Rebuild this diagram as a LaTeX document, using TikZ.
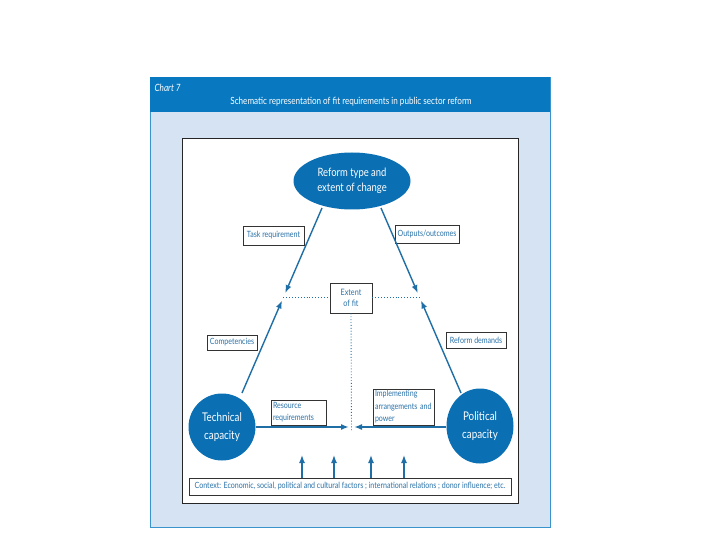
\documentclass[tikz,border=0pt]{standalone}
\usepackage{fontspec}
\setmainfont{Lato}[FakeStretch=0.82]
\usetikzlibrary{arrows.meta,calc,shapes.geometric}
\definecolor{hdr}{HTML}{0878C0}
\definecolor{panel}{HTML}{D6E3F3}
\definecolor{blob}{HTML}{0B6FB3}
\definecolor{ln}{HTML}{1F6FA6}
\definecolor{txt}{HTML}{2A72A8}
\tikzset{
  blobnode/.style={fill=blob, draw=none, text=white, align=center, inner sep=0pt},
  lbl/.style={draw=black!80, line width=0.7pt, fill=white, text=txt, inner sep=1pt, align=center, font=\fontsize{8.6}{9.5}\selectfont},
  conn/.style={draw=ln, line width=1.4pt},
  arr/.style={conn, -{Latex[length=8pt,width=6pt]}},
  dots/.style={draw=ln, line width=0.9pt, dotted}
}
\begin{document}
\begin{tikzpicture}[x=1pt,y=-1pt]
\useasboundingbox (0,0) rectangle (720,540);
\fill[white] (0,0) rectangle (720,540);
\draw[fill=panel, draw=hdr!80, line width=0.8pt] (150,77) rectangle (550,527);
\fill[hdr] (150,77) rectangle (550,112);
\draw[fill=white, draw=black!85, line width=0.9pt] (182,138) rectangle (518,503);

\node[anchor=west, text=white, font=\itshape\fontsize{10}{11}\selectfont] (chart) at (151,88) {Chart 7};
\node[text=white, font=\fontsize{9.9}{11}\selectfont] (title) at (351,102) {Schematic representation of fit requirements in public sector reform};

% main nodes
\node[blobnode, ellipse, minimum width=117pt, minimum height=57pt, font=\fontsize{11.5}{15}\selectfont] (top) at (352,181) {Reform type and\\extent of change};
\node[blobnode, circle, minimum size=67pt, font=\fontsize{12}{18}\selectfont] (tech) at (222,427) {Technical\\capacity};
\node[blobnode, ellipse, minimum width=67pt, minimum height=75pt, font=\fontsize{12}{18}\selectfont] (pol) at (480,426) {Political\\capacity};

% labels
\node[lbl, minimum width=61pt, minimum height=19pt] (task) at (273.5,235.5) {Task requirement};
\node[lbl, minimum width=64pt, minimum height=18pt] (outp) at (427,234) {Outputs/outcomes};
\node[lbl, minimum width=50pt, minimum height=15pt] (comp) at (232,342.5) {Competencies};
\node[lbl, minimum width=60pt, minimum height=16pt] (refd) at (476,340) {Reform demands};
\node[lbl, minimum width=42pt, minimum height=30pt, font=\fontsize{8.8}{11}\selectfont] (fit) at (351,298) {Extent\\of fit};
\node[lbl, align=left, text width=52pt, minimum height=25pt, inner sep=1.5pt, font=\fontsize{8.6}{12}\selectfont] (res) at (299,412.5) {Resource\\requirements};
\node[lbl, align=left, text width=58pt, minimum height=36pt, inner sep=1.5pt, font=\fontsize{8.6}{12.5}\selectfont] (impl) at (404,407) {Implementing\\arrangements and\\power};
\node[lbl, minimum width=322pt, minimum height=17pt, inner sep=0.5pt, font=\fontsize{8.6}{9}\selectfont] (ctx) at (350,486.5) {Context: Economic, social, political and cultural factors ; international relations ; donor influence; etc.};

% connector coordinates
\coordinate (lt) at (322,208);
\coordinate (lb) at (242,393);
\coordinate (rt) at (381,208);
\coordinate (rb) at (461,393);
\coordinate (lm1) at ($(lt)!0.46!(lb)$);
\coordinate (lm2) at ($(lt)!0.5!(lb)$);
\coordinate (rm1) at ($(rt)!0.46!(rb)$);
\coordinate (rm2) at ($(rt)!0.5!(rb)$);
\coordinate (ldot) at ($(lt)!0.483!(lb)$);
\coordinate (rdot) at ($(rt)!0.483!(rb)$);
\coordinate (meet) at (351.5,430);
\coordinate (hl) at (349,427);
\coordinate (hr) at (354,427);

\draw[arr] (lt) -- (lm1);
\draw[arr] (lb) -- (lm2);
\draw[arr] (rt) -- (rm1);
\draw[arr] (rb) -- (rm2);

\draw[dots] (ldot) -- (ldot -| fit.west);
\draw[dots] (fit.east |- rdot) -- (rdot);
\draw[dots] (fit.south) -- (meet);

\draw[arr, line width=1.7pt] (tech.east |- hl) -- (hl);
\draw[arr, line width=1.7pt] (pol.west |- hr) -- (hr);

\foreach \x/\n in {302/a1,334/a2,371/a3,404/a4}{
  \coordinate (\n) at (\x,455);
  \draw[arr] (ctx.north -| \n) -- (\n);
}
\end{tikzpicture}
\end{document}
